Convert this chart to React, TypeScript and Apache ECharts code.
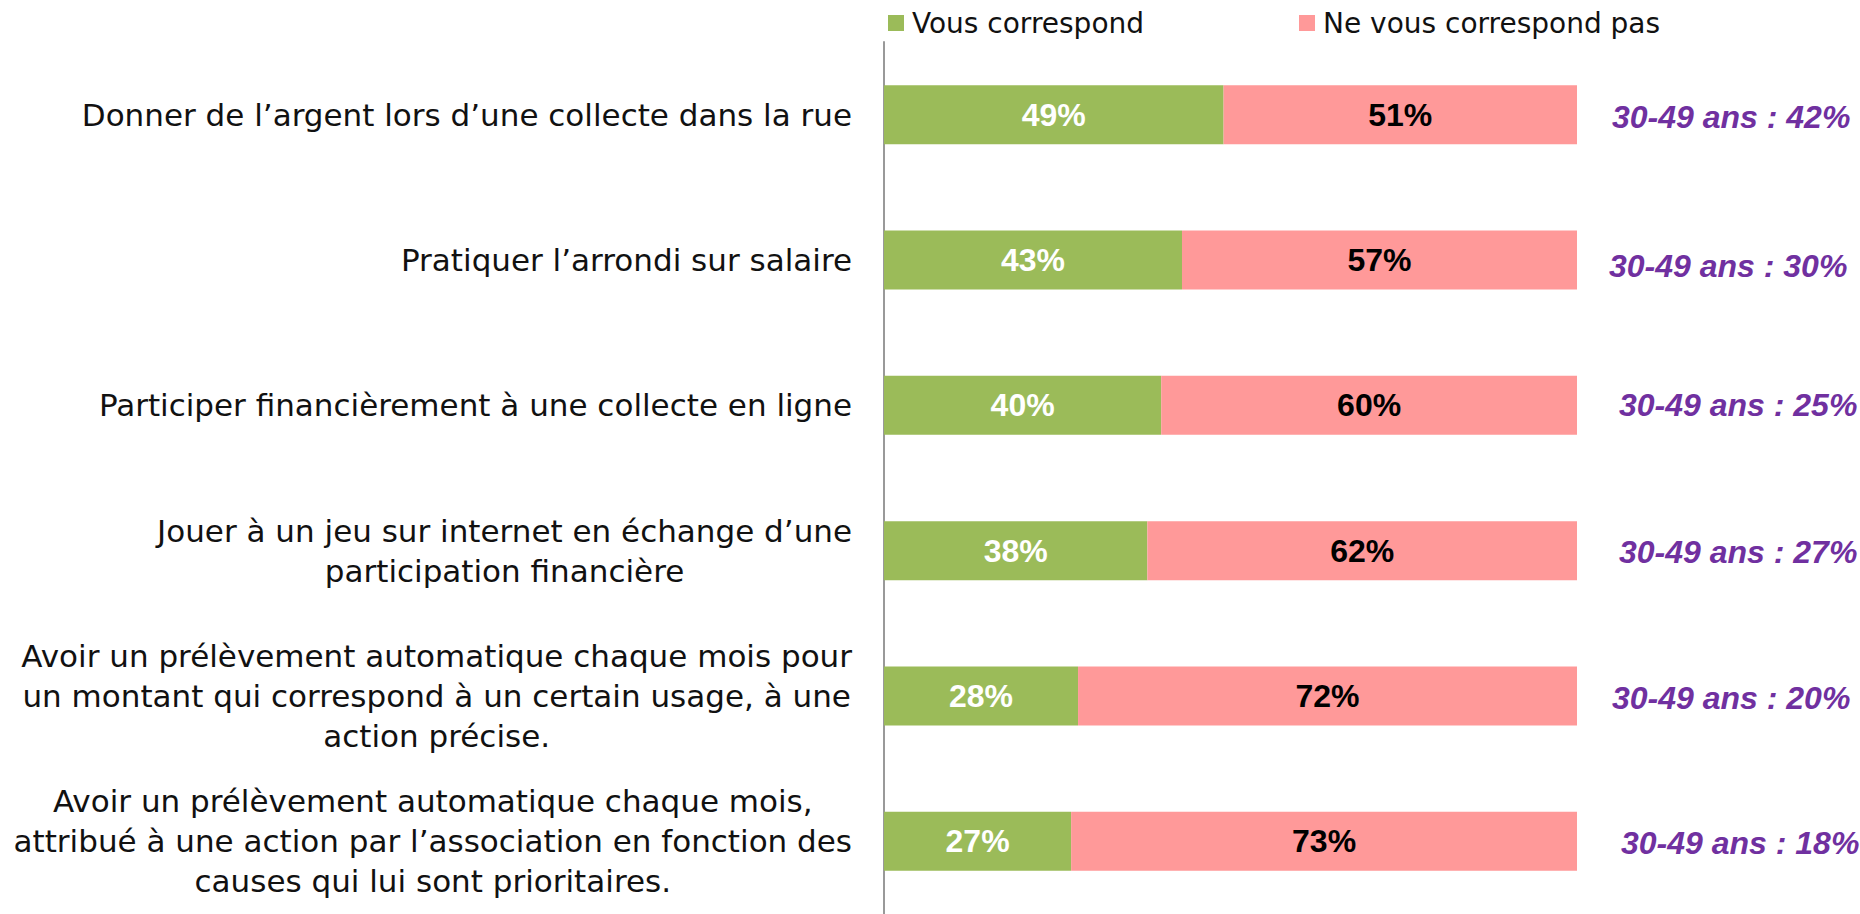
import React, { useEffect, useRef } from "react";
import * as echarts from "echarts";

// Survey statements (one per row, top to bottom)
const categories = [
  "Donner de l’argent lors d’une collecte dans la rue",
  "Pratiquer l’arrondi sur salaire",
  "Participer financièrement à une collecte en ligne",
  "Jouer à un jeu sur internet en échange d’une\nparticipation financière",
  "Avoir un prélèvement automatique chaque mois pour\nun montant qui correspond à un certain usage, à une\naction précise.",
  "Avoir un prélèvement automatique chaque mois,\nattribué à une action par l’association en fonction des\ncauses qui lui sont prioritaires.",
];

const seriesNames = ["Vous correspond", "Ne vous correspond pas"];
const vousCorrespond = [49, 43, 40, 38, 28, 27];
const neVousCorrespondPas = [51, 57, 60, 62, 72, 73];

// Share among 30-49 year olds, shown to the right of each bar
const ageGroupLabel = "30-49 ans";
const ageGroupShare = [42, 30, 25, 27, 20, 18];

// Small per-row nudges of the age-group note: [distance from bar end, vertical shift]
const noteNudges: [number, number][] = [
  [35, 2],
  [32, 6],
  [42, 0],
  [42, 1],
  [35, 2],
  [44, 2],
];

const GREEN = "#9BBB59";
const PINK = "#FF9999";
const PURPLE = "#7030A0";
const TEXT_FONT = "DejaVu Sans";
const NUM_FONT = "Liberation Sans";

export default function App() {
  const ref = useRef<HTMLDivElement>(null);

  useEffect(() => {
    if (!ref.current) return;
    const chart = echarts.init(ref.current, null, { renderer: "svg" });

    const legendBase = {
      top: 9,
      padding: 0,
      itemWidth: 16,
      itemHeight: 16,
      icon: "rect",
      selectedMode: false,
      textStyle: {
        fontFamily: TEXT_FONT,
        fontSize: 28,
        color: "#111",
        padding: [0, 0, 0, 3],
      },
    };

    chart.setOption({
      animation: false,
      backgroundColor: "#ffffff",
      legend: [
        { ...legendBase, left: 888, data: [seriesNames[0]] },
        { ...legendBase, left: 1299, data: [seriesNames[1]] },
      ],
      grid: {
        left: 884,
        right: 283,
        top: 42,
        bottom: -6,
        containLabel: false,
      },
      xAxis: {
        type: "value",
        min: 0,
        max: 100,
        show: false,
      },
      yAxis: {
        type: "category",
        inverse: true,
        data: categories,
        axisLine: { show: true, lineStyle: { color: "#999999", width: 2 } },
        axisTick: { show: false },
        splitLine: { show: false },
        axisLabel: {
          interval: 0,
          margin: 32,
          align: "right",
          formatter: (value: string) =>
            value
              .split("\n")
              .map((line) => `{c|${line}}`)
              .join("\n"),
          rich: {
            c: {
              align: "center",
              fontFamily: TEXT_FONT,
              fontSize: 31,
              lineHeight: 40,
              color: "#111",
            },
          },
        },
      },
      series: [
        {
          name: seriesNames[0],
          type: "bar",
          stack: "total",
          barWidth: 59,
          data: vousCorrespond,
          itemStyle: { color: GREEN },
          label: {
            show: true,
            position: "inside",
            formatter: "{c}%",
            fontFamily: NUM_FONT,
            fontWeight: "bold",
            fontSize: 32,
            color: "#ffffff",
          },
        },
        {
          name: seriesNames[1],
          type: "bar",
          stack: "total",
          barWidth: 59,
          data: neVousCorrespondPas,
          itemStyle: { color: PINK },
          label: {
            show: true,
            position: "inside",
            formatter: "{c}%",
            fontFamily: NUM_FONT,
            fontWeight: "bold",
            fontSize: 32,
            color: "#000000",
          },
        },
        {
          name: ageGroupLabel,
          type: "scatter",
          symbolSize: 0,
          silent: true,
          itemStyle: { opacity: 1 },
          data: ageGroupShare.map((share, i) => ({
            value: [100, i],
            share,
            label: {
              distance: noteNudges[i][0],
              offset: [0, noteNudges[i][1]],
            },
          })),
          label: {
            show: true,
            position: "right",
            opacity: 1,
            formatter: (p: any) => `${ageGroupLabel} : ${p.data.share}%`,
            fontFamily: NUM_FONT,
            fontStyle: "italic",
            fontWeight: "bold",
            fontSize: 32,
            color: PURPLE,
          },
        },
      ],
    });

    return () => chart.dispose();
  }, []);

  return (
    <div
      ref={ref}
      style={{ position: "absolute", left: 0, top: 0, width: 1860, height: 914 }}
    />
  );
}
